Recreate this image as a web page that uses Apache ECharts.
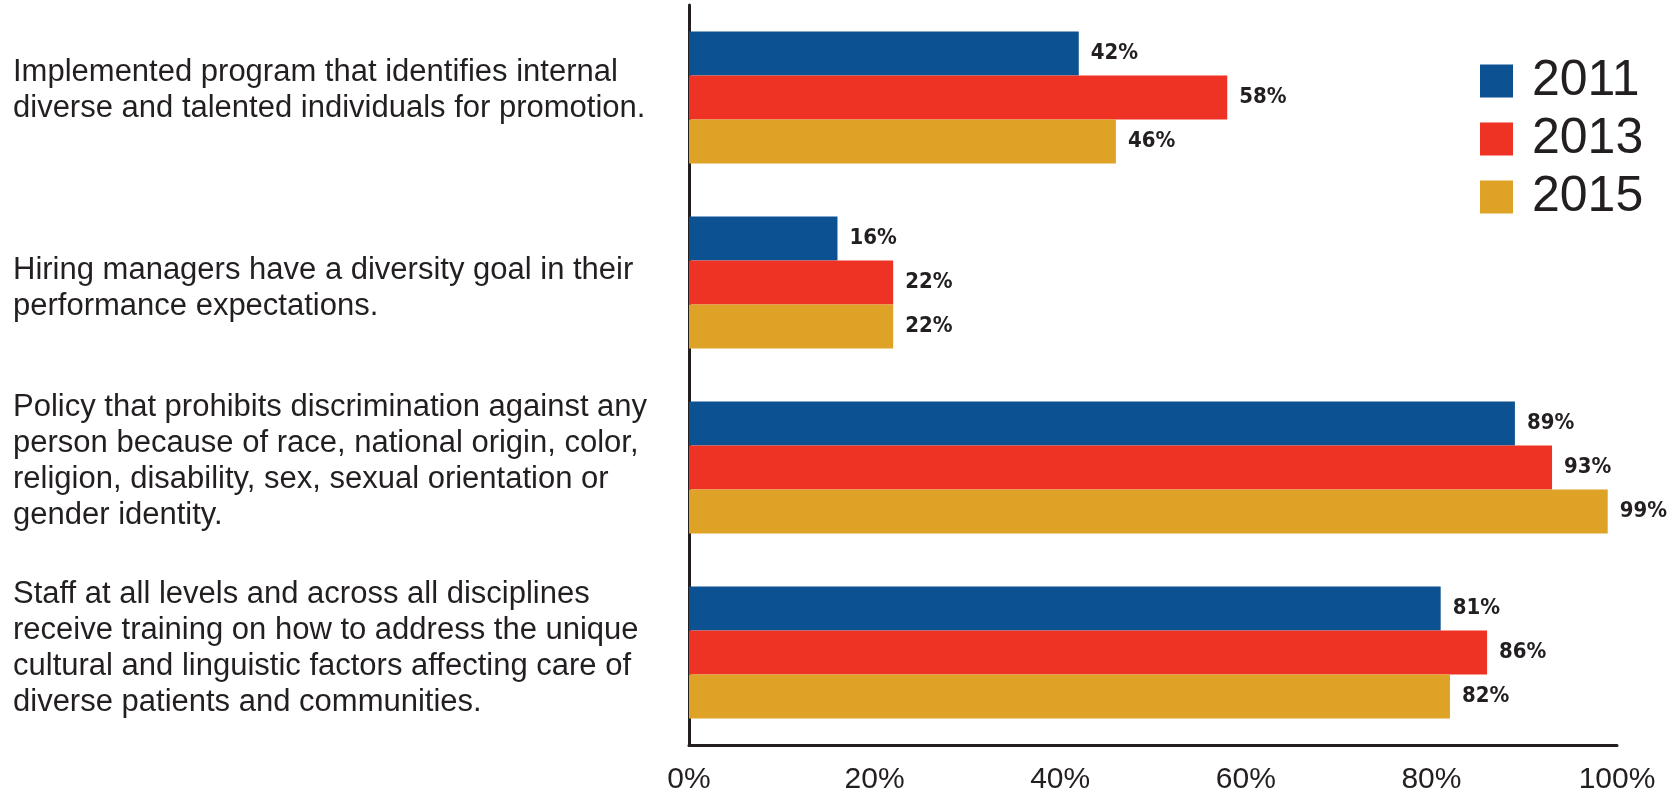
<!DOCTYPE html>
<html>
<head>
<meta charset="utf-8">
<title>Diversity practices, 2011–2015</title>
<script src="https://cdn.jsdelivr.net/npm/echarts@6/dist/echarts.min.js"></script>
<style>
  html, body { margin: 0; padding: 0; background: #ffffff; }
  #chart { width: 1679px; height: 794px; }
</style>
</head>
<body>
<div id="chart"></div>
<script>
// Survey items (top to bottom), line breaks as printed
const categories = [
  'Implemented program that identifies internal\ndiverse and talented individuals for promotion.',
  'Hiring managers have a diversity goal in their\nperformance expectations.',
  'Policy that prohibits discrimination against any\nperson because of race, national origin, color,\nreligion, disability, sex, sexual orientation or\ngender identity.',
  'Staff at all levels and across all disciplines\nreceive training on how to address the unique\ncultural and linguistic factors affecting care of\ndiverse patients and communities.'
];

// Share of respondents (%) per survey year
const years = ['2011', '2013', '2015'];
const values2011 = [42, 16, 89, 81];
const values2013 = [58, 22, 93, 86];
const values2015 = [46, 22, 99, 82];

const seriesValues = [values2011, values2013, values2015];
const seriesColors = ['#0c5292', '#ee3224', '#dea226'];

// Vertical nudge (px, negative = up) for each item's text block
const labelNudge = [-7, 6, -6, -4];

const ink = '#231f20';
const bodyFont = 'Liberation Sans, Arial, sans-serif';

// Rich-text styles: body text plus thin spacer lines that shift a
// vertically centred block up (spacer below) or down (spacer above).
const richStyles = {
  t: { fontFamily: bodyFont, fontSize: 31, lineHeight: 36, color: ink }
};
labelNudge.forEach((d) => {
  const h = Math.abs(d) * 2;
  richStyles['sp' + h] = { fontSize: 1, lineHeight: h, color: 'rgba(0,0,0,0)' };
});

function categoryLabel(value, index) {
  const body = value.split('\n').map((line) => '{t|' + line + '}').join('\n');
  const d = labelNudge[index] || 0;
  if (d === 0) return body;
  const spacer = '{sp' + Math.abs(d) * 2 + '| }';
  return d < 0 ? body + '\n' + spacer : spacer + '\n' + body;
}

const chart = echarts.init(document.getElementById('chart'), null, { renderer: 'canvas' });

chart.setOption({
  animation: false,
  backgroundColor: '#ffffff',
  grid: {
    left: 689, top: 5, width: 928, height: 740,
    containLabel: false,
    outerBoundsMode: 'none'
  },
  legend: {
    orient: 'vertical',
    left: 1480,
    top: 56,
    padding: 0,
    itemWidth: 33,
    itemHeight: 33,
    itemGap: 8,
    icon: 'rect',
    data: years,
    textStyle: {
      fontFamily: bodyFont,
      fontSize: 50,
      color: ink,
      padding: [0, 0, 0, 14]
    }
  },
  xAxis: {
    type: 'value',
    min: 0,
    max: 100,
    interval: 20,
    axisLine: { show: true, lineStyle: { color: ink, width: 3 } },
    axisTick: { show: false },
    splitLine: { show: false },
    axisLabel: {
      formatter: '{value}%',
      margin: 20,
      fontFamily: bodyFont,
      fontSize: 30,
      color: ink
    }
  },
  yAxis: {
    type: 'category',
    inverse: true,
    data: categories,
    axisLine: { show: true, lineStyle: { color: ink, width: 3 } },
    axisTick: { show: false },
    axisLabel: {
      margin: 676,
      align: 'left',
      verticalAlign: 'middle',
      formatter: categoryLabel,
      rich: richStyles
    }
  },
  series: years.map((year, i) => ({
    name: year,
    type: 'bar',
    data: seriesValues[i],
    barWidth: 44,
    barGap: '0%',
    itemStyle: { color: seriesColors[i] },
    label: {
      show: true,
      position: 'right',
      distance: 12,
      formatter: '{c}%',
      fontFamily: "'DejaVu Sans Condensed', 'DejaVu Sans', sans-serif",
      fontWeight: 'bold',
      fontSize: 22,
      color: ink
    }
  }))
});
</script>
</body>
</html>
